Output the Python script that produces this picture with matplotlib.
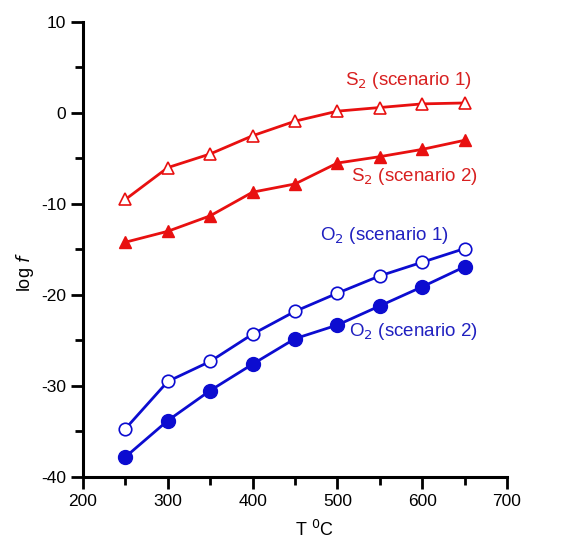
import numpy as np
import matplotlib
matplotlib.use('Agg')
import matplotlib.pyplot as plt
from matplotlib.ticker import MultipleLocator

plt.rcParams['font.family'] = ['Liberation Sans', 'DejaVu Sans']
plt.rcParams['axes.unicode_minus'] = False

T = [250, 300, 350, 400, 450, 500, 550, 600, 650]
s2_sc1 = [-9.5, -6.0, -4.5, -2.5, -0.9, 0.2, 0.6, 1.0, 1.1]
s2_sc2 = [-14.2, -13.0, -11.3, -8.7, -7.8, -5.5, -4.8, -4.0, -3.0]
o2_sc1 = [-34.7, -29.5, -27.3, -24.3, -21.8, -19.8, -17.9, -16.4, -14.9]
o2_sc2 = [-37.8, -33.8, -30.5, -27.6, -24.8, -23.3, -21.2, -19.1, -16.9]

red = '#e81010'
blue = '#0c0cd0'

fig = plt.figure(figsize=(5.62, 5.4), dpi=100)
ax = fig.add_axes([0.1477, 0.1167, 0.7545, 0.8426])

ax.plot(T, s2_sc1, color=red, lw=2, marker='^', ms=8, mfc='white', mec=red, mew=1.2)
ax.plot(T, s2_sc2, color=red, lw=2, marker='^', ms=9, mfc=red, mec=red)
ax.plot(T, o2_sc1, color=blue, lw=2, marker='o', ms=9, mfc='white', mec=blue, mew=1.2)
ax.plot(T, o2_sc2, color=blue, lw=2, marker='o', ms=10, mfc=blue, mec=blue)

ax.text(584, 3.6, 'S$_2$ (scenario 1)', color='#d82020', fontsize=13.5, ha='center', va='center')
ax.text(591, -7.0, 'S$_2$ (scenario 2)', color='#d82020', fontsize=13.5, ha='center', va='center')
ax.text(555, -13.5, 'O$_2$ (scenario 1)', color='#2020c0', fontsize=13.5, ha='center', va='center')
ax.text(589, -24.0, 'O$_2$ (scenario 2)', color='#2020c0', fontsize=13.5, ha='center', va='center')

ax.set_xlim(200, 700)
ax.set_ylim(-40, 10)
ax.xaxis.set_major_locator(MultipleLocator(100))
ax.xaxis.set_minor_locator(MultipleLocator(50))
ax.yaxis.set_major_locator(MultipleLocator(10))
ax.yaxis.set_minor_locator(MultipleLocator(5))

for s in ['top', 'right']:
    ax.spines[s].set_visible(False)
for s in ['left', 'bottom']:
    ax.spines[s].set_linewidth(2.2)

ax.tick_params(which='major', direction='out', length=8.5, width=2, labelsize=12.5)
ax.tick_params(which='minor', direction='out', length=5.5, width=2)

ax.set_xlabel('T $^0$C', fontsize=13)
ax.set_ylabel('log $\\it{f}$', fontsize=13)
ax.xaxis.set_label_coords(0.547, -0.095)
ax.yaxis.set_label_coords(-0.11, 0.45)

plt.savefig('out.png', dpi=100)
